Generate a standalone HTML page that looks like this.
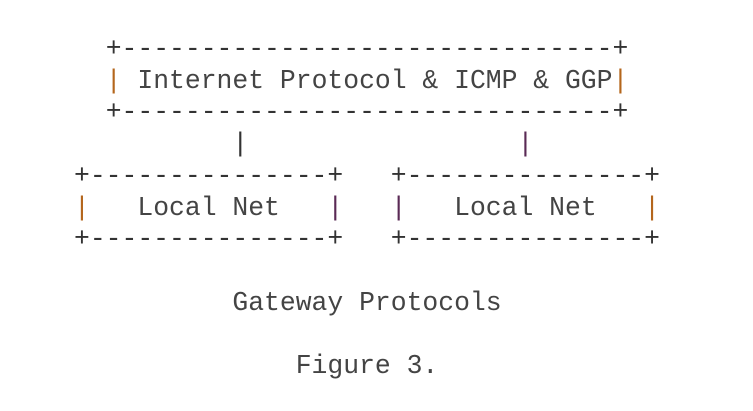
<!DOCTYPE html>
<html><head><style>
html,body{margin:0;padding:0;background:#fff;width:753px;height:411px;overflow:hidden}
pre{position:absolute;left:74px;top:34px;margin:0;font-family:"Liberation Mono",monospace;font-size:26.4px;line-height:31.7px;color:#444}
.o{color:#b4661c}.p{color:#5a2a55}.k{color:#333}
</style></head><body>
<pre>  <span class="k">+-------------------------------+</span>
  <span class="o">|</span> Internet Protocol &amp; ICMP &amp; GGP<span class="o">|</span>
  <span class="k">+-------------------------------+</span>
          <span class="k">|</span>                 <span class="p">|</span>
<span class="k">+---------------+</span>   <span class="k">+---------------+</span>
<span class="o">|</span>   Local Net   <span class="p">|</span>   <span class="p">|</span>   Local Net   <span class="o">|</span>
<span class="k">+---------------+</span>   <span class="k">+---------------+</span>

          Gateway Protocols

              Figure 3.
</pre>
</body></html>
